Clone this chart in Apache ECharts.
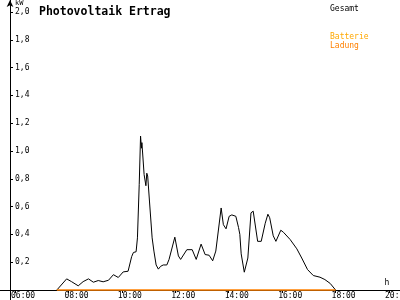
<!DOCTYPE html>
<html>
<head>
<meta charset="utf-8">
<script src="https://cdn.jsdelivr.net/npm/echarts@6/dist/echarts.min.js"></script>
<style>html,body{margin:0;padding:0;background:#fff}#c{width:400px;height:300px}</style>
</head>
<body>
<div id="c"></div>
<script>
// ---- data ----
var times = ["07:34","07:56","08:07","08:22","08:33","08:45","08:56","09:07","09:18","09:30","09:41","09:52",
  "10:03","10:14","10:22","10:26","10:32","10:35","10:39","10:42","10:44","10:45","10:50","10:54","10:56","10:58",
  "11:02","11:08","11:12","11:17","11:22","11:27","11:33","11:41","11:46","11:59","12:07","12:12","12:26","12:38",
  "12:47","12:58","13:07","13:16","13:24","13:31","13:43","13:48","13:54","14:01","14:07","14:16","14:22","14:25",
  "14:28","14:35","14:43","14:50","14:55","15:05","15:13","15:22","15:28","15:32","15:40","15:46","15:57","16:03",
  "16:18","16:33","16:44","16:57","17:10","17:25","17:36","17:48","18:00"];
var gesamt = [0,0.08,0.06,0.03,0.06,0.08,0.056,0.068,0.059,0.07,0.11,0.09,
  0.13,0.135,0.24,0.27,0.275,0.375,0.76,1.107,1.02,1.06,0.83,0.75,0.84,0.82,
  0.64,0.375,0.28,0.18,0.15,0.17,0.18,0.18,0.22,0.38,0.245,0.22,0.29,0.29,
  0.22,0.33,0.255,0.25,0.21,0.28,0.59,0.47,0.44,0.53,0.54,0.53,0.45,0.40,
  0.26,0.128,0.23,0.555,0.567,0.35,0.35,0.48,0.545,0.52,0.39,0.35,0.43,0.415,
  0.363,0.296,0.23,0.147,0.104,0.092,0.075,0.047,0];
var ladungTimes = ["07:34","18:00"];
var ladung = [0,0];
var batterie = [];
var xTicks = [6,8,10,12,14,16,18,20];
var yTicks = [0.2,0.4,0.6,0.8,1.0,1.2,1.4,1.6,1.8,2.0];

function toH(t){var p=t.split(':');return +p[0]+(+p[1])/60;}
function pad(n){return (n<10?'0':'')+n;}
var chart = echarts.init(document.getElementById('c'), null, {renderer:'canvas'});
var mono = 'DejaVu Sans Mono';
chart.setOption({
  animation:false,
  backgroundColor:'#fff',
  title:{text:'Photovoltaik Ertrag',left:34,top:1,textStyle:{fontFamily:mono,fontWeight:'bold',fontSize:11.5,color:'#000'}},
  legend:[
    {data:['Gesamt'],left:320,top:0,icon:'none',itemWidth:0,itemHeight:8,selectedMode:false,
     textStyle:{fontFamily:mono,fontSize:8,color:'#000'}},
    {data:[{name:'Batterie',textStyle:{color:'#ffa800'}},{name:'Ladung',textStyle:{color:'#ff8000'}}],
     orient:'vertical',left:320,top:28,icon:'none',itemWidth:0,itemHeight:7,itemGap:1,selectedMode:false,
     textStyle:{fontFamily:mono,fontSize:8,lineHeight:7}}
  ],
  grid:{left:0,right:0,top:0,bottom:0,containLabel:false,outerBoundsMode:'none'},
  xAxis:{type:'value',min:5.4385,max:20.412,offset:-10,
    axisLine:{onZero:false,lineStyle:{color:'#000',width:1}},
    axisTick:{customValues:xTicks,length:3,lineStyle:{color:'#000'}},
    axisLabel:{show:true,customValues:xTicks,hideOverlap:false,
      formatter:function(v){return pad(Math.round(v))+':00';},
      margin:2,fontFamily:mono,fontSize:8,color:'#000',align:'left',padding:[0,0,0,-4]},
    splitLine:{show:false},
    name:'h',nameLocation:'end',nameGap:-13,
    nameTextStyle:{fontFamily:mono,fontSize:8,color:'#000',align:'center',verticalAlign:'bottom',padding:[0,0,3,0]}
  },
  yAxis:{type:'value',min:-0.072,max:2.086,offset:-10,
    axisLine:{show:true,onZero:false,symbol:['none','arrow'],symbolSize:[5,7],lineStyle:{color:'#000',width:1}},
    axisTick:{show:true,customValues:yTicks,inside:true,length:3,lineStyle:{color:'#000'}},
    axisLabel:{customValues:yTicks,inside:true,margin:5,fontFamily:mono,fontSize:8,color:'#000',
      formatter:function(v){return v.toFixed(1).replace('.',',');}},
    splitLine:{show:false},
    name:'kW',nameLocation:'end',nameGap:-7,
    nameTextStyle:{fontFamily:mono,fontSize:7,color:'#000',align:'left',padding:[0,0,0,5]}
  },
  series:[
    {name:'Gesamt',type:'line',showSymbol:false,symbol:'none',color:'#000',
     lineStyle:{color:'#000',width:1},data:times.map(function(t,i){return [toH(t),gesamt[i]];})},
    {name:'Batterie',type:'line',showSymbol:false,symbol:'none',color:'#ffa800',
     lineStyle:{color:'#ffa800',width:1.5},data:batterie},
    {name:'Ladung',type:'line',showSymbol:false,symbol:'none',color:'#ff8000',
     lineStyle:{color:'#ff8000',width:1.5},data:ladungTimes.map(function(t,i){return [toH(t),ladung[i]];})}
  ]
});
</script>
</body>
</html>
